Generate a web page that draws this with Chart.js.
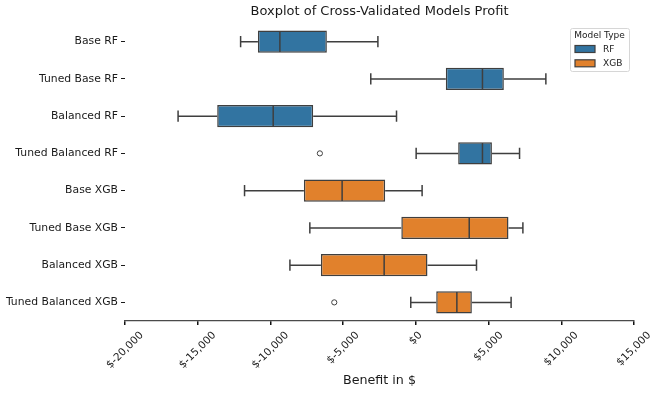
<!DOCTYPE html>
<html>
<head>
<meta charset="utf-8">
<script src="https://cdn.jsdelivr.net/npm/chart.js"></script>
<style>
  body { margin: 0; background: #fff; }
  #wrap { width: 660px; height: 394px; }
</style>
</head>
<body>
<div id="wrap"><canvas id="boxChart" width="660" height="394"></canvas></div>
<script>
const categories = ['Base RF', 'Tuned Base RF', 'Balanced RF', 'Tuned Balanced RF',
  'Base XGB', 'Tuned Base XGB', 'Balanced XGB', 'Tuned Balanced XGB'];
const modelType = ['RF', 'RF', 'RF', 'RF', 'XGB', 'XGB', 'XGB', 'XGB'];
const whiskerLow = [-12050, -3100, -16350, 20, -11780, -7290, -8660, -350];
const q1 = [-10860, 2060, -13660, 2910, -7700, -1000, -6530, 1400];
const median = [-9350, 4580, -9810, 4580, -5070, 3670, -2180, 2820];
const q3 = [-6120, 6050, -7060, 5230, -2110, 6370, 800, 3850];
const whiskerHigh = [-2610, 8940, -1330, 7130, 430, 7360, 4170, 6550];
const outliers = [[], [], [], [-6600], [], [], [], [-5610]];
const xTicks = [-20000, -15000, -10000, -5000, 0, 5000, 10000, 15000];

const typeColors = { RF: '#3274a1', XGB: '#e1812c' };
const edge = '#3f3f3f';
const textColor = '#1a1a1a';
const boxFrac = 0.6;

function moneyLabel(v) {
  return '$' + v.toLocaleString('en-US');
}

// boxes as floating bars, one dataset per model type
function boxData(type) {
  return categories.map((c, i) => modelType[i] === type ? [q1[i], q3[i]] : null);
}

// whiskers, caps, medians and outliers
const boxExtras = {
  id: 'boxExtras',
  afterDatasetsDraw(chart) {
    const { ctx } = chart;
    const xs = chart.scales.x;
    const ys = chart.scales.y;
    const band = ys.getPixelForValue(1) - ys.getPixelForValue(0);
    const half = band * boxFrac / 2;
    const cap = half / 2;
    ctx.save();
    ctx.strokeStyle = edge;
    ctx.lineWidth = 1.5;
    categories.forEach((c, i) => {
      const y = ys.getPixelForValue(i);
      const lo = xs.getPixelForValue(whiskerLow[i]);
      const hi = xs.getPixelForValue(whiskerHigh[i]);
      const a = xs.getPixelForValue(q1[i]);
      const b = xs.getPixelForValue(q3[i]);
      const m = xs.getPixelForValue(median[i]);
      ctx.beginPath();
      ctx.moveTo(lo, y); ctx.lineTo(a, y);
      ctx.moveTo(b, y); ctx.lineTo(hi, y);
      ctx.moveTo(lo, y - cap); ctx.lineTo(lo, y + cap);
      ctx.moveTo(hi, y - cap); ctx.lineTo(hi, y + cap);
      ctx.moveTo(m, y - half + 0.75); ctx.lineTo(m, y + half - 0.75);
      ctx.stroke();
      outliers[i].forEach(v => {
        ctx.beginPath();
        ctx.lineWidth = 1;
        ctx.arc(xs.getPixelForValue(v), y, 2.6, 0, Math.PI * 2);
        ctx.stroke();
        ctx.lineWidth = 1.5;
      });
    });
    ctx.restore();
  },
  afterDraw(chart) {
    const { ctx, chartArea } = chart;
    const xs = chart.scales.x;
    ctx.save();
    ctx.fillStyle = textColor;

    // title centred on the plot area
    ctx.font = '13px "DejaVu Sans"';
    ctx.textAlign = 'center';
    ctx.textBaseline = 'middle';
    ctx.fillText('Boxplot of Cross-Validated Models Profit', (chartArea.left + chartArea.right) / 2, 12);

    // x tick labels rotated 45deg, centred under the tick
    ctx.font = '10.5px "DejaVu Sans"';
    const top = chartArea.bottom + 9;
    xTicks.forEach(v => {
      const txt = moneyLabel(v);
      const w = ctx.measureText(txt).width;
      const h = 10;
      const px = xs.getPixelForValue(v);
      const cy = top + (w + h) * Math.SQRT1_2 / 2;
      ctx.save();
      ctx.translate(px, cy);
      ctx.rotate(-Math.PI / 4);
      ctx.fillText(txt, 0, 0);
      ctx.restore();
    });

    // legend
    const lw = 59, lh = 43;
    const lx = chartArea.right - 5 - lw;
    const ly = chartArea.top + 5;
    ctx.beginPath();
    ctx.roundRect(lx + 0.5, ly + 0.5, lw, lh, 2);
    ctx.fillStyle = 'rgba(255,255,255,0.8)';
    ctx.fill();
    ctx.strokeStyle = '#d6d6d6';
    ctx.lineWidth = 1;
    ctx.stroke();
    ctx.fillStyle = textColor;
    ctx.font = '9px "DejaVu Sans"';
    ctx.textAlign = 'center';
    ctx.fillText('Model Type', lx + lw / 2, ly + 7.5);
    ['RF', 'XGB'].forEach((t, k) => {
      const yy = ly + 21 + k * 14.3;
      ctx.fillStyle = typeColors[t];
      ctx.fillRect(lx + 5, yy - 3.5, 20, 7);
      ctx.strokeStyle = edge;
      ctx.lineWidth = 1.2;
      ctx.strokeRect(lx + 5, yy - 3.5, 20, 7);
      ctx.fillStyle = textColor;
      ctx.textAlign = 'left';
      ctx.fillText(t, lx + 33, yy + 0.5);
    });
    ctx.restore();
  }
};

new Chart(document.getElementById('boxChart'), {
  type: 'bar',
  data: {
    labels: categories,
    datasets: ['RF', 'XGB'].map(t => ({
      label: t,
      data: boxData(t),
      backgroundColor: typeColors[t],
      borderColor: edge,
      borderWidth: 1.5,
      borderSkipped: false,
      grouped: false,
      categoryPercentage: 1,
      barPercentage: boxFrac
    }))
  },
  options: {
    indexAxis: 'y',
    responsive: false,
    animation: false,
    layout: { padding: { left: 0, right: 26, top: 23, bottom: 0 } },
    scales: {
      x: {
        type: 'linear',
        min: -20000,
        max: 15000,
        afterFit: s => { s.height = 73; },
        afterBuildTicks: s => { s.ticks = xTicks.map(v => ({ value: v })); },
        ticks: { display: false },
        grid: { drawOnChartArea: false, drawTicks: true, tickLength: 4, color: '#111', lineWidth: 1.5 },
        border: { display: true, color: '#4a4a4a', width: 1.2 },
        title: {
          display: true,
          text: 'Benefit in $',
          color: textColor,
          font: { family: 'DejaVu Sans', size: 12.7 },
          padding: { top: 0, bottom: 6 }
        }
      },
      y: {
        afterFit: s => { s.width = 125; },
        ticks: { color: textColor, font: { family: 'DejaVu Sans', size: 10.8 }, padding: 3 },
        grid: { offset: false, drawOnChartArea: false, drawTicks: true, tickLength: 4, color: textColor, lineWidth: 1 },
        border: { display: false }
      }
    },
    plugins: {
      legend: { display: false },
      tooltip: { enabled: false }
    }
  },
  plugins: [boxExtras]
});
</script>
</body>
</html>
